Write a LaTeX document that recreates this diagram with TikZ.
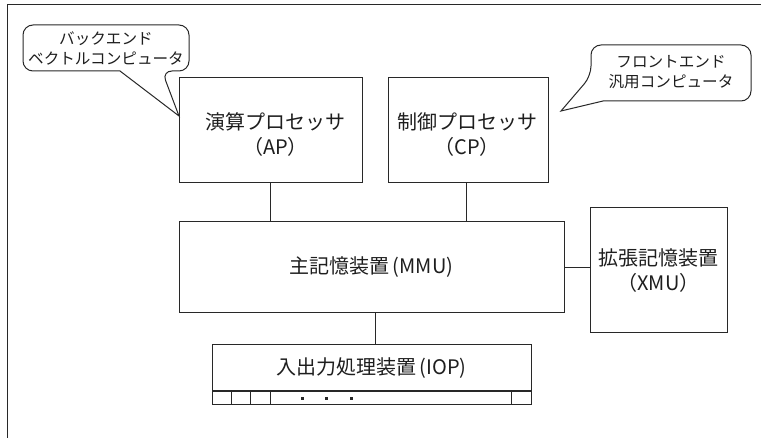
\documentclass[tikz,border=0pt]{standalone}
\usepackage{fontspec}
\setmainfont{Noto Sans CJK JP}
\usetikzlibrary{calc}
\definecolor{ln}{RGB}{40,40,40}
\definecolor{tx}{RGB}{30,30,30}
\tikzset{
  box/.style={draw=ln, line width=1pt, inner sep=0pt, align=center, text=tx, font=\fontsize{20}{25}\selectfont},
  label/.style={inner sep=0pt, align=center, text=tx, font=\fontsize{20}{25}\selectfont},
  conn/.style={draw=ln, line width=1pt},
  bubble/.style={draw=ln, line width=1pt, fill=white},
  btext/.style={align=center, text=tx, inner sep=0pt, font=\fontsize{15.6}{20}\selectfont}
}
\begin{document}
\begin{tikzpicture}[x=1pt,y=-1pt]
\useasboundingbox (0,0) rectangle (761,438);
% frame
\draw[conn] (7,438) -- (7,5) -- (761,5);
% boxes
\node[box, minimum width=183pt, minimum height=105pt] (AP) at (270.5,130.5) {};
\node[label] (APt) at (275.5,135) {演算プロセッサ\\（AP）};
\node[box, minimum width=160pt, minimum height=105pt] (CP) at (468,130.5) {};
\node[label] (CPt) at (467,135) {制御プロセッサ\\（CP）};
\node[box, minimum width=385pt, minimum height=91pt] (MMU) at (371.5,267.5) {主記憶装置\,(MMU)};
\node[box, minimum width=137pt, minimum height=125pt] (XMU) at (658.5,270.5) {拡張記憶装置\\（XMU）};
\node[box, minimum width=319pt, minimum height=46pt] (IOP) at (371.5,368) {入出力処理装置\,(IOP)};
\node[box, minimum width=319pt, minimum height=13pt, anchor=north] (IOPs) at (IOP.south) {};
% strip cells
\foreach \dx in {20,39,59,300} {
  \draw[conn] ($(IOPs.north west)+(\dx,0)$) -- ($(IOPs.south west)+(\dx,0)$);
}
\foreach \dx in {91,115,140} {
  \fill[ln] ($(IOPs.west)+(\dx-1.2,-1.2)$) rectangle ++(2.4,2.4);
}
% connectors
\draw[conn] (AP.south) -- (AP.south |- MMU.north);
\draw[conn] ([xshift=-2pt]CP.south) -- ([xshift=-2pt]CP.south |- MMU.north);
\draw[conn] (MMU.east) -- (MMU.east -| XMU.west);
\draw[conn] ([xshift=3.5pt]MMU.south) -- ([xshift=3.5pt]MMU.south |- IOP.north);
% callout 1
\coordinate (tip1) at (179,116);
\draw[bubble] (120,71) [rounded corners=10pt] -- (23,71) -- (23,25) -- (189,25) -- (189,71) -- (162,71) [sharp corners] -- (tip1) -- cycle;
\node[btext] (c1) at (106,48) {バックエンド\\ベクトルコンピュータ};
% callout 2
\coordinate (tip2) at (561,111);
\draw[bubble] (603,101) [rounded corners=10pt] -- (751,101) -- (751,45) -- (591,45) -- (591,76) [sharp corners] -- (tip2) -- cycle;
\node[btext] (c2) at (671,72) {フロントエンド\\汎用コンピュータ};
\end{tikzpicture}
\end{document}
